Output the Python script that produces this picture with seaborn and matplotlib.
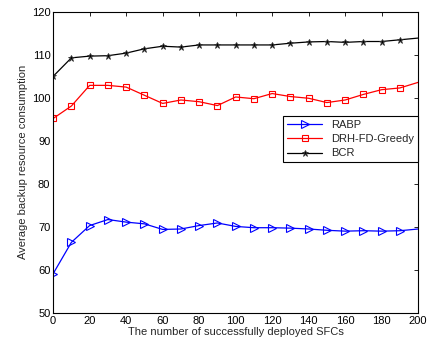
import matplotlib
matplotlib.use("Agg")
import matplotlib.pyplot as plt
import seaborn as sns
import pandas as pd

x = [0, 10, 20, 30, 40, 50, 60, 70, 80, 90, 100, 110, 120, 130, 140, 150, 160, 170, 180, 190, 200]
rabp = [59.1, 66.4, 70.3, 71.7, 71.1, 70.7, 69.4, 69.5, 70.3, 70.9, 70.1, 69.8, 69.8, 69.7, 69.5, 69.2, 69.0, 69.1, 69.0, 69.1, 69.5]
drh = [95.2, 98.1, 102.9, 102.9, 102.5, 100.6, 98.7, 99.5, 99.1, 98.2, 100.2, 99.8, 101.0, 100.3, 99.9, 98.9, 99.5, 100.8, 101.9, 102.3, 103.6]
bcr = [105.0, 109.3, 109.7, 109.8, 110.4, 111.4, 112.0, 111.8, 112.3, 112.3, 112.3, 112.3, 112.3, 112.7, 113.0, 113.1, 112.9, 113.1, 113.1, 113.5, 113.9]
names = ["RABP", "DRH-FD-Greedy", "BCR"]
xticks = list(range(0, 201, 20))
yticks = list(range(50, 121, 10))

sns.set_theme(style="white")
plt.rcParams['font.family'] = ['Liberation Sans', 'DejaVu Sans']
plt.rcParams['font.size'] = 8

fig = plt.figure(figsize=(4.32, 3.48), dpi=100)
ax = fig.add_axes([0.123, 0.101, 0.845, 0.865])

df = pd.DataFrame({"x": x, "RABP": rabp, "DRH-FD-Greedy": drh, "BCR": bcr})
me = list(range(len(x) - 1))
sns.lineplot(data=df, x="x", y="RABP", ax=ax, color="blue", marker=">", markersize=5.5,
             markerfacecolor="none", markeredgecolor="blue", markeredgewidth=0.8,
             linewidth=0.9, markevery=me, label=names[0])
sns.lineplot(data=df, x="x", y="DRH-FD-Greedy", ax=ax, color="red", marker="s", markersize=5,
             markerfacecolor="none", markeredgecolor="red", markeredgewidth=0.8,
             linewidth=0.9, markevery=me, label=names[1])
sns.lineplot(data=df, x="x", y="BCR", ax=ax, color="black", marker="*", markersize=5,
             markerfacecolor="black", markeredgecolor="#333333", markeredgewidth=0.6,
             linewidth=0.9, markevery=me, label=names[2])

ax.set_xlim(0, 200)
ax.set_ylim(50, 120)
ax.set_xticks(xticks)
ax.set_yticks(yticks)
ax.tick_params(direction="in", top=True, right=True, length=3, width=0.6,
               labelsize=8, pad=2, colors="black")
for s in ax.spines.values():
    s.set_color("black")
    s.set_linewidth(0.8)
ax.set_xlabel("The number of successfully deployed SFCs", fontsize=8, labelpad=1)
ax.set_ylabel("Average backup resource consumption", fontsize=8, labelpad=3)

leg = ax.legend(loc="upper right", bbox_to_anchor=(1.0, 0.655), fontsize=8,
                frameon=True, fancybox=False, edgecolor="black", framealpha=1,
                borderpad=0.35, handlelength=3.2, labelspacing=0.4, borderaxespad=0)
leg.get_frame().set_linewidth(0.8)

fig.savefig("out.png", dpi=100)
